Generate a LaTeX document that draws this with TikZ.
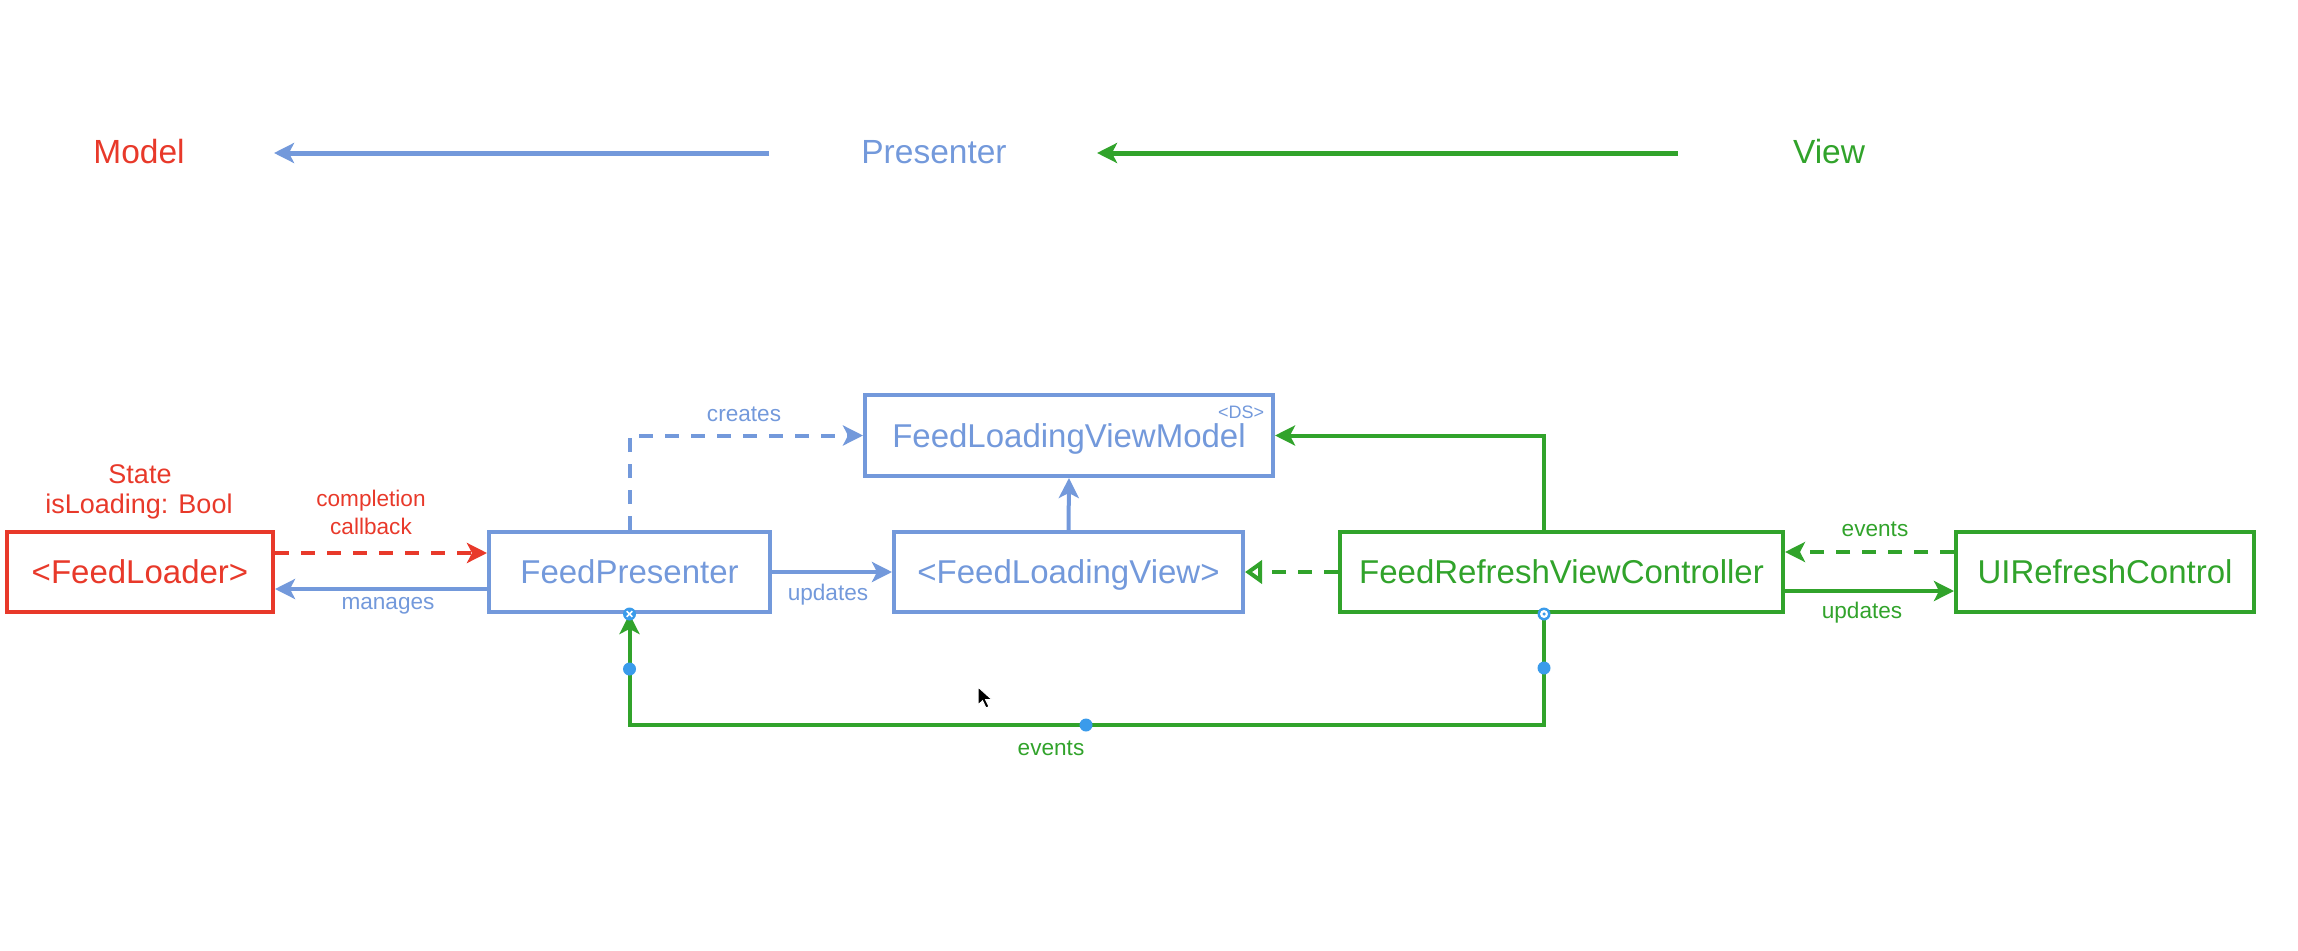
\documentclass[tikz,border=0pt]{standalone}
\usepackage{fontspec}
\setmainfont{Liberation Sans}
\usetikzlibrary{arrows.meta,calc}
\definecolor{cred}{HTML}{E8392A}
\definecolor{cblue}{HTML}{7399DB}
\definecolor{cgreen}{HTML}{31A32B}
\definecolor{cmark}{HTML}{3A9BEB}
\begin{document}
\begin{tikzpicture}[x=1pt,y=-1pt,
  box/.style={draw, line width=4pt, inner sep=0pt, minimum height=80pt,
    font=\fontsize{33}{40}\selectfont, text height=23.6pt, text depth=0pt},
  head/.style={font=\fontsize{33.5}{40}\selectfont, anchor=base, inner sep=0pt},
  lbl/.style={font=\fontsize{22.6}{28}\selectfont, anchor=base, inner sep=0pt, align=center},
  conn/.style={line width=4pt},
  tip/.style={-{Stealth[length=20pt,width=20pt,inset=5pt]}},
  opentip/.style={-{Triangle[open,length=17pt,width=23pt,line width=4pt]}},
  dsh/.style={dash pattern=on 14pt off 12pt},
  dot/.style={circle, fill=cmark, minimum size=13pt, inner sep=0pt},
]
\useasboundingbox (0,0) rectangle (2298,950);

% header row
\node[head, text=cred] (model) at (139,163) {Model};
\node[head, text=cblue] (presenter) at (934,163) {Presenter};
\node[head, text=cgreen] (view) at (1829,163) {View};
\coordinate (hb1) at (769,153);
\coordinate (hb2) at (274,153);
\coordinate (hg1) at (1678,153);
\coordinate (hg2) at (1097,153);
\draw[cblue, line width=5pt, tip] (hb1) -- (hb2);
\draw[cgreen, line width=5pt, tip] (hg1) -- (hg2);

% boxes
\node[box, draw=cred, text=cred, minimum width=266pt] (FL) at (140,572) {<FeedLoader>};
\node[box, draw=cblue, text=cblue, minimum width=281pt] (FP) at (629.5,572) {FeedPresenter};
\node[box, draw=cblue, text=cblue, minimum width=408pt, minimum height=81pt] (FLVM) at (1069,435.5) {FeedLoadingViewModel};
\node[box, draw=cblue, text=cblue, minimum width=349pt] (FLV) at (1068.5,572) {<FeedLoadingView>};
\node[box, draw=cgreen, text=cgreen, minimum width=443pt] (FRVC) at (1561.5,572) {FeedRefreshViewController};
\node[box, draw=cgreen, text=cgreen, minimum width=298pt] (UIRC) at (2105,572) {UIRefreshControl};
\node[font=\fontsize{18}{20}\selectfont, text=cblue, inner sep=0pt, anchor=base] (ds) at (1241,418) {<DS>};

% helper coordinates
\coordinate (yR) at (0,553);
\coordinate (yM) at (0,589);
\coordinate (yB) at (0,725);
\coordinate (yE) at (0,552);
\coordinate (yU) at (0,591);
\coordinate (xF) at (1544,0);

% connectors
\draw[conn, cred, dsh, tip] (FL.east |- yR) -- (FP.west |- yR);
\draw[conn, cblue, tip] (FP.west |- yM) -- (FL.east |- yM);
\draw[conn, cblue, dsh, tip] (FP.north) |- (FLVM.west);
\draw[conn, cblue, tip] (FP.east) -- (FLV.west);
\draw[conn, cblue, tip] (FLV.north) -- (FLVM.south);
\draw[conn, cgreen, tip] (FRVC.north -| xF) |- (FLVM.east);
\draw[conn, cgreen, dsh, opentip] (FRVC.west) -- (FLV.east);
\draw[conn, cgreen, dsh, tip] (UIRC.west |- yE) -- (FRVC.east |- yE);
\draw[conn, cgreen, tip] (FRVC.east |- yU) -- (UIRC.west |- yU);
\draw[conn, cgreen, tip] (FRVC.south -| xF) -- (xF |- yB) -- (FP.south |- yB) -- (FP.south);

% labels
\node[lbl, text=cred, font=\fontsize{27}{30}\selectfont] (lstate) at (140,483) {State};
\node[lbl, text=cred, font=\fontsize{27}{30}\selectfont] (lstate2) at (139,513) {isLoading: Bool};
\node[lbl, text=cred] (lcomp) at (371,506) {completion};
\node[lbl, text=cred] (lcall) at (371,534) {callback};
\node[lbl, text=cblue] (lman) at (388,609) {manages};
\node[lbl, text=cblue] (lcre) at (744,421) {creates};
\node[lbl, text=cblue] (lupd) at (828,600) {updates};
\node[lbl, text=cgreen] (lev1) at (1875,536) {events};
\node[lbl, text=cgreen] (lupd2) at (1862,618) {updates};
\node[lbl, text=cgreen] (lev2) at (1051,755) {events};

% markers
\node[dot] (m1) at (FP.south) {};
\draw[white, line width=1.6pt] ($(m1)+(-2.8,-2.8)$) -- ($(m1)+(2.8,2.8)$) ($(m1)+(-2.8,2.8)$) -- ($(m1)+(2.8,-2.8)$);
\node[dot] (m2) at (FRVC.south -| xF) {};
\node[circle, fill=white, minimum size=8pt, inner sep=0pt] (m2w) at (m2) {};
\node[circle, fill=cmark, minimum size=3.5pt, inner sep=0pt] (m2c) at (m2) {};
\node[dot] (d1) at (629.5,669) {};
\node[dot] (d2) at (1544,668) {};
\node[dot] (d3) at (1086,725) {};

% mouse pointer
\filldraw[black, draw=white, line width=1pt] (978,687) -- ++(0,18) -- ++(4.5,-4.2) -- ++(3.5,7.2) -- ++(3,-1.4) -- ++(-3.4,-7) -- ++(6.4,0) -- cycle;
\end{tikzpicture}
\end{document}
